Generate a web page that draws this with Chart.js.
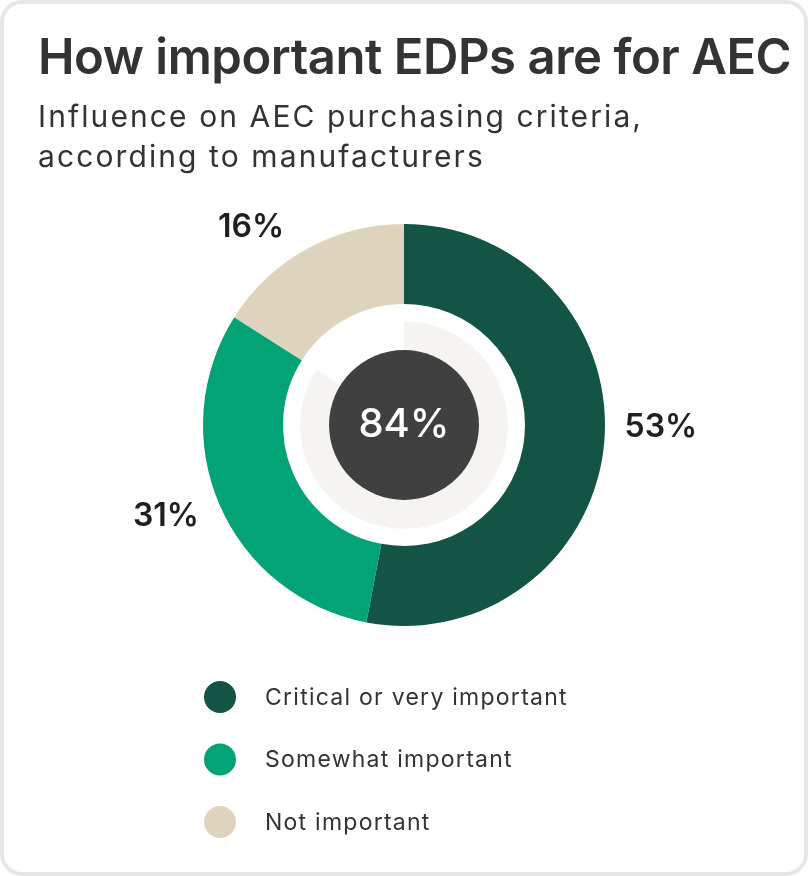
<!DOCTYPE html>
<html>
<head>
<meta charset="utf-8">
<title>How important EDPs are for AEC</title>
<script src="https://cdn.jsdelivr.net/npm/chart.js@4.4.1/dist/chart.umd.min.js"></script>
<style>
  html, body { margin: 0; padding: 0; background: #fff; }
  .frame {
    width: 808px; height: 876px; box-sizing: border-box;
    border: 4px solid #e6e6e6; border-radius: 22px; overflow: hidden;
  }
  .box { position: relative; width: 800px; height: 868px; font-family: 'Inter', sans-serif; color: #333; }
  .box h1 {
    position: absolute; left: 34px; top: 25px; margin: 0;
    font-size: 49px; line-height: 56px; font-weight: 600; letter-spacing: -0.45px;
    white-space: nowrap;
  }
  .box p {
    position: absolute; left: 34px; top: 92px; margin: 0;
    font-size: 30px; line-height: 40px; font-weight: 400; letter-spacing: 2.1px;
  }
  .box canvas { position: absolute; left: 0; top: 0; }
</style>
</head>
<body>
<div class="frame"><div class="box">
  <canvas id="chartEdp"></canvas>
  <h1>How important EDPs are for AEC</h1>
  <p>Influence on AEC purchasing criteria,<br>according to manufacturers</p>
</div></div>
<script>
// dados
const categories = ['Critical or very important', 'Somewhat important', 'Not important'];
const shares = [53, 31, 16];
const importantTotal = [84, 16];   // critical + somewhat, rest
const spacerRing = [100];

const colors = ['#135444', '#04a375', '#ded4bd'];
const innerColors = ['#f5f4f0', '#ffffff'];
const inkColor = '#1f1f1f';

// small nudges so the % labels sit where the original has them
const labelNudge = [[3, -22], [-4, -10], [-30, 26]];

/* rotulos em volta do anel */
const sliceLabels = {
    id: 'sliceLabels',
    afterDatasetsDraw(chart) {
        const ctx = chart.ctx;
        const meta = chart.getDatasetMeta(0);
        ctx.save();
        ctx.fillStyle = inkColor;
        ctx.font = "600 32px 'Inter', sans-serif";
        ctx.textAlign = 'center';
        ctx.textBaseline = 'middle';
        meta.data.forEach((arc, i) => {
            const p = arc.getProps(['x', 'y', 'startAngle', 'endAngle', 'outerRadius'], true);
            const mid = (p.startAngle + p.endAngle) / 2;
            const r = p.outerRadius + 54;
            ctx.fillText(shares[i] + '%',
                p.x + Math.cos(mid) * r + labelNudge[i][0],
                p.y + Math.sin(mid) * r + labelNudge[i][1]);
        });
        ctx.restore();
    }
};

/* circulo escuro no meio */
const centerBadge = {
    id: 'centerBadge',
    afterDatasetsDraw(chart) {
        const ctx = chart.ctx;
        const arc = chart.getDatasetMeta(2).data[0];
        const p = arc.getProps(['x', 'y', 'innerRadius'], true);
        ctx.save();
        ctx.beginPath();
        ctx.arc(p.x, p.y, p.innerRadius, 0, Math.PI * 2);
        ctx.fillStyle = '#404040';
        ctx.fill();
        ctx.fillStyle = '#ffffff';
        ctx.font = "500 40px 'Inter', sans-serif";
        ctx.textAlign = 'center';
        ctx.textBaseline = 'middle';
        ctx.fillText(importantTotal[0] + '%', p.x, p.y);
        ctx.restore();
    }
};

/* legenda vertical embaixo */
const stackedLegend = {
    id: 'stackedLegend',
    afterDraw(chart) {
        const ctx = chart.ctx;
        const top = chart.chartArea.bottom + 71;
        ctx.save();
        ctx.font = "400 23px 'Inter', sans-serif";
        ctx.letterSpacing = '1.25px';
        ctx.textBaseline = 'middle';
        ctx.textAlign = 'left';
        categories.forEach((label, i) => {
            const y = top + i * 62.5;
            ctx.beginPath();
            ctx.arc(216, y, 16, 0, Math.PI * 2);
            ctx.fillStyle = colors[i];
            ctx.fill();
            ctx.fillStyle = '#333333';
            ctx.fillText(label, 261, y + 1);
        });
        ctx.restore();
    }
};

const dataEdp = {
    labels: categories,
    datasets: [{
        label: 'Share of manufacturers',
        data: shares,
        backgroundColor: colors,
        borderWidth: 0,
        hoverOffset: 0,
        weight: 80
    }, {
        label: 'spacer',
        data: spacerRing,
        backgroundColor: ['#ffffff'],
        borderWidth: 0,
        hoverOffset: 0,
        weight: 17
    }, {
        label: 'Important (total)',
        data: importantTotal,
        backgroundColor: innerColors,
        borderWidth: 0,
        hoverOffset: 0,
        weight: 29
    }]
};

const configEdp = {
    type: 'doughnut',
    data: dataEdp,
    plugins: [sliceLabels, centerBadge, stackedLegend],
    options: {
        responsive: true,
        maintainAspectRatio: false,
        animation: false,
        cutout: '37.3%',
        events: [],
        layout: {
            padding: { top: 220, left: 34, right: 34, bottom: 246 }
        },
        plugins: {
            legend: { display: false },
            tooltip: { enabled: false }
        }
    }
};

const chartEdp = new Chart(document.getElementById('chartEdp'), configEdp);
</script>
</body>
</html>
